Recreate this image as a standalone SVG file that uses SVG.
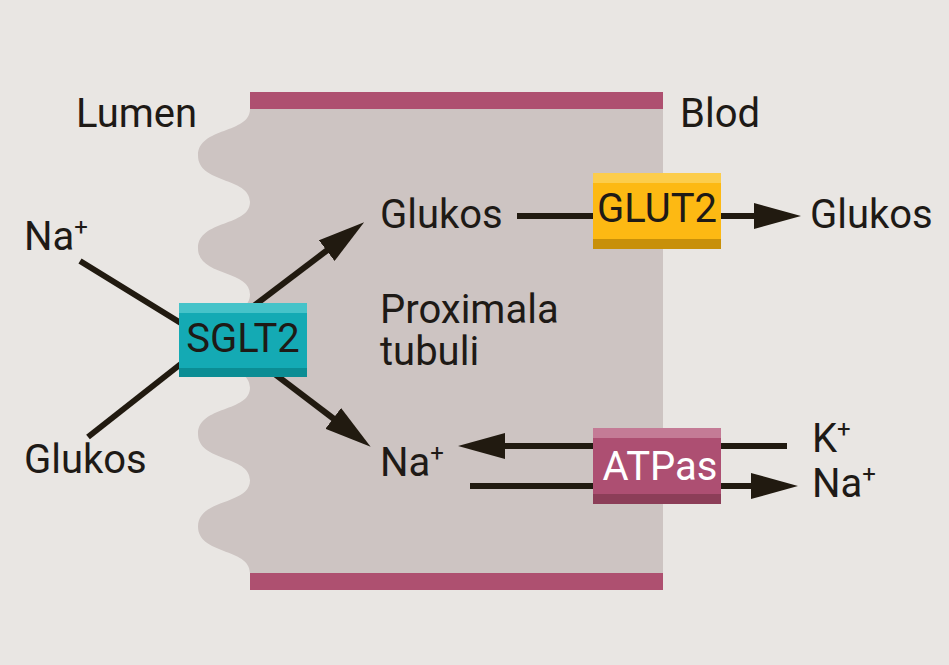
<svg xmlns="http://www.w3.org/2000/svg" width="949" height="665" viewBox="0 0 949 665">
<defs>
<style>
.t{font-family:Roboto,"Liberation Sans",sans-serif;font-size:40px;fill:#1e1a16;font-weight:400}
.sup{font-size:24px}
.ln{stroke:#211a10;stroke-width:6;fill:none}
</style>
<marker id="ah" markerUnits="userSpaceOnUse" markerWidth="48" markerHeight="26" refX="1" refY="13" orient="auto">
<path d="M0,0 L47,13 L0,26 Z" fill="#211a10"/>
</marker>
</defs>
<rect x="0" y="0" width="949" height="665" fill="#e9e6e3"/>
<g id="cell">
<path d="M250,109 C250,134 198,127 198,155.4 C198,183.8 250,176.8 250,201.8 C250,226.8 198,219.8 198,248.2 C198,276.6 250,269.6 250,294.6 C250,319.6 198,312.6 198,341 C198,369.4 250,362.4 250,387.4 C250,412.4 198,405.4 198,433.8 C198,462.2 250,455.2 250,480.2 C250,505.2 198,498.2 198,526.6 C198,555 250,548 250,573 L663,573 L663,109 Z" fill="#cdc4c2"/>
<rect x="250" y="92" width="413" height="17" fill="#ae5070"/>
<rect x="250" y="573" width="413" height="17" fill="#ae5070"/>
</g>
<g id="labels">
<text class="t" x="76" y="127">Lumen</text>
<text class="t" x="680" y="127">Blod</text>
<text class="t" x="24" y="250">Na<tspan class="sup" dy="-15">+</tspan></text>
<text class="t" x="24" y="473">Glukos</text>
<text class="t" x="380" y="228">Glukos</text>
<text class="t" x="380" y="323">Proximala<tspan x="380" y="365">tubuli</tspan></text>
<text class="t" x="380" y="476">Na<tspan class="sup" dy="-15">+</tspan></text>
<text class="t" x="810" y="228">Glukos</text>
<text class="t" x="812" y="452">K<tspan class="sup" dy="-15">+</tspan></text>
<text class="t" x="812" y="497">Na<tspan class="sup" dy="-15">+</tspan></text>
</g>
<g id="connectors">
<line class="ln" x1="80" y1="261" x2="210" y2="341"/>
<line class="ln" x1="88" y1="437" x2="210" y2="341"/>
<line class="ln" x1="230" y1="324" x2="327.5" y2="250" marker-end="url(#ah)"/>
<line class="ln" x1="230" y1="340" x2="334" y2="419" marker-end="url(#ah)"/>
<line class="ln" x1="517" y1="216" x2="600" y2="216"/>
<line class="ln" x1="710" y1="216" x2="755" y2="216" marker-end="url(#ah)"/>
<line class="ln" x1="787" y1="446" x2="504" y2="446" marker-end="url(#ah)"/>
<line class="ln" x1="470" y1="486" x2="752" y2="486" marker-end="url(#ah)"/>
</g>
<g id="sglt2">
<rect x="179" y="303" width="128" height="74" fill="#14aab4"/>
<rect x="179" y="303" width="128" height="10" fill="#46c3c9"/>
<rect x="179" y="368" width="128" height="9" fill="#0b8d94"/>
<text class="t" x="243" y="352" text-anchor="middle">SGLT2</text>
</g>
<g id="glut2">
<rect x="593" y="173" width="128" height="76" fill="#fdb913"/>
<rect x="593" y="173" width="128" height="10" fill="#fccd4c"/>
<rect x="593" y="239" width="128" height="10" fill="#c8900a"/>
<text class="t" x="657" y="222" text-anchor="middle">GLUT2</text>
</g>
<g id="atpas">
<rect x="593" y="428" width="128" height="76" fill="#ad4f72"/>
<rect x="593" y="428" width="128" height="10" fill="#c47b96"/>
<rect x="593" y="494" width="128" height="10" fill="#8c3e58"/>
<text class="t" x="660" y="480" text-anchor="middle" style="fill:#ffffff">ATPas</text>
</g>
</svg>
